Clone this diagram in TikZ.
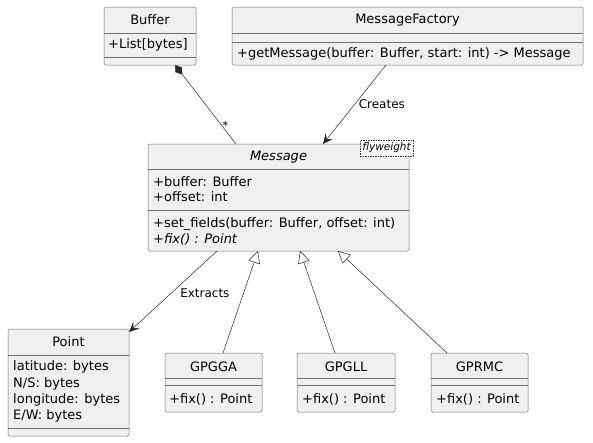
\documentclass[tikz,border=0pt]{standalone}
\usepackage{fontspec}
\setmainfont{DejaVu Sans}
\usetikzlibrary{arrows.meta}

\begin{document}
\begin{tikzpicture}[x=1pt, y=-1pt,
    cls/.style={draw=black!55, fill=black!6, rounded corners=1.5pt, line width=0.5pt, inner sep=0pt, outer sep=0pt},
    sep/.style={draw=black!55, line width=0.5pt},
    title/.style={inner sep=0pt, font=\fontsize{13}{15}\selectfont},
    member/.style={anchor=west, inner sep=0pt, font=\fontsize{13}{15}\selectfont},
    link/.style={draw=black!85, line width=0.5pt},
    lbl/.style={inner sep=1pt, font=\fontsize{12}{14}\selectfont}]
    \useasboundingbox (0,0) rectangle (593,442);

    % class boxes
    \node [cls, minimum width=92pt, minimum height=58pt] (buffer) at (150,36) {};
    \node [cls, minimum width=351pt, minimum height=58pt] (factory) at (407.5,36) {};
    \node [cls, minimum width=261pt, minimum height=107pt] (message) at (278.5,197.5) {};
    \node [cls, minimum width=121pt, minimum height=107pt] (point) at (68.5,382.5) {};
    \node [cls, minimum width=97pt, minimum height=59pt] (gpgga) at (213.5,382.5) {};
    \node [cls, minimum width=98pt, minimum height=59pt] (gpgll) at (346,382.5) {};
    \node [cls, minimum width=97pt, minimum height=59pt] (gprmc) at (479.5,382.5) {};

    % separators
    \draw [sep] (buffer.west |- 0,33) -- (buffer.east |- 0,33);
    \draw [sep] (buffer.west |- 0,57) -- (buffer.east |- 0,57);
    \draw [sep] (factory.west |- 0,33) -- (factory.east |- 0,33);
    \draw [sep] (factory.west |- 0,42) -- (factory.east |- 0,42);
    \draw [sep] (message.west |- 0,169) -- (message.east |- 0,169);
    \draw [sep] (message.west |- 0,210) -- (message.east |- 0,210);
    \draw [sep] (point.west |- 0,355) -- (point.east |- 0,355);
    \draw [sep] (point.west |- 0,428) -- (point.east |- 0,428);
    \foreach \c in {gpgga, gpgll, gprmc} {
        \draw [sep] (\c.west |- 0,378) -- (\c.east |- 0,378);
        \draw [sep] (\c.west |- 0,385.5) -- (\c.east |- 0,385.5);
    }

    % texts
    \node [title] (bufferT) at (150,20) {Buffer};
    \node [member] (bufferM) at (108,45) {+List[bytes]};
    \node [title] (factoryT) at (407.5,20) {MessageFactory};
    \node [member] (factoryM) at (237,54) {+getMessage(buffer: Buffer, start: int) -> Message};
    \node [title, font=\fontsize{13}{15}\selectfont\itshape] (messageT) at (278.5,157) {Message};
    \node [member] (messageA) at (153,182) {+buffer: Buffer};
    \node [member] (messageB) at (153,197) {+offset: int};
    \node [member] (messageC) at (153,224) {+set\_fields(buffer: Buffer, offset: int)};
    \node [member, font=\fontsize{13}{15}\selectfont\itshape] (messageD) at (153,239) {+fix() : Point};
    \node [draw=black!80, dash pattern=on 1.5pt off 1pt, line width=0.5pt, fill=white,
        minimum width=53pt, minimum height=16pt, inner sep=0pt,
        font=\fontsize{10.5}{12}\selectfont\itshape] (flyweight) at (386.5,148) {flyweight};
    \node [title] (pointT) at (68.5,342) {Point};
    \node [member] (pointA) at (13,367) {latitude: bytes};
    \node [member] (pointB) at (13,384) {N/S: bytes};
    \node [member] (pointC) at (13,400) {longitude: bytes};
    \node [member] (pointD) at (13,416) {E/W: bytes};
    \node [title] (gpggaT) at (213.5,367) {GPGGA};
    \node [member] (gpggaM) at (169,399) {+fix() : Point};
    \node [title] (gpgllT) at (346,367) {GPGLL};
    \node [member] (gpgllM) at (302,399) {+fix() : Point};
    \node [title] (gprmcT) at (479.5,367) {GPRMC};
    \node [member] (gprmcM) at (436,399) {+fix() : Point};

    % relations
    \draw [link, {Diamond[length=12pt, width=8pt]}-] ([xshift=25pt]buffer.south) -- ([xshift=-42.5pt]message.north)
        node [pos=0.76, right, lbl, font=\fontsize{11}{12}\selectfont] {*};
    \draw [link, -{Stealth[length=10pt, width=9pt, inset=4pt]}] ([xshift=-21.5pt]factory.south) -- ([xshift=44.5pt]message.north)
        node [midway, right, lbl, xshift=3pt] {Creates};
    \draw [link, -{Stealth[length=10pt, width=9pt, inset=4pt]}] ([xshift=-61.5pt]message.south) -- ([yshift=-3pt]point.north east)
        node [midway, right, lbl, xshift=6pt, yshift=-2pt] {Extracts};
    \draw [link, -{Triangle[open, length=12pt, width=12pt]}] ([xshift=9.5pt]gpgga.north) -- ([xshift=-20.5pt]message.south);
    \draw [link, -{Triangle[open, length=12pt, width=12pt]}] ([xshift=-11pt]gpgll.north) -- ([xshift=21.5pt]message.south);
    \draw [link, -{Triangle[open, length=12pt, width=12pt]}] ([xshift=-32.5pt]gprmc.north) -- ([xshift=59.5pt]message.south);
\end{tikzpicture}
\end{document}
